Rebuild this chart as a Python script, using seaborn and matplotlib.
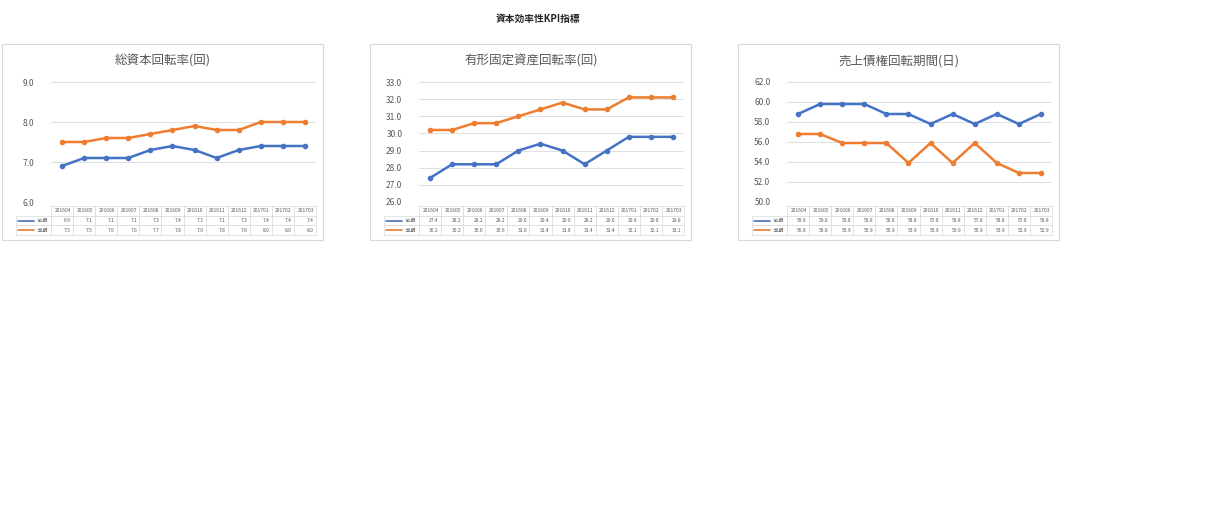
import matplotlib.pyplot as plt
import seaborn as sns
import pandas as pd
from matplotlib.patches import Rectangle
from matplotlib.lines import Line2D

sns.set_style("white")
plt.rcParams['font.family'] = ['Noto Sans CJK JP', 'DejaVu Sans']

months = ["201604", "201605", "201606", "201607", "201608", "201609",
          "201610", "201611", "201612", "201701", "201702", "201703"]
series_names = ["前期", "当期"]

titles = ["総資本回転率(回)", "有形固定資産回転率(回)", "売上債権回転期間(日)"]
prev_vals = [
    [6.9, 7.1, 7.1, 7.1, 7.3, 7.4, 7.3, 7.1, 7.3, 7.4, 7.4, 7.4],
    [27.4, 28.2, 28.2, 28.2, 29.0, 29.4, 29.0, 28.2, 29.0, 29.8, 29.8, 29.8],
    [58.8, 59.8, 59.8, 59.8, 58.8, 58.8, 57.8, 58.8, 57.8, 58.8, 57.8, 58.8],
]
curr_vals = [
    [7.5, 7.5, 7.6, 7.6, 7.7, 7.8, 7.9, 7.8, 7.8, 8.0, 8.0, 8.0],
    [30.2, 30.2, 30.6, 30.6, 31.0, 31.4, 31.8, 31.4, 31.4, 32.1, 32.1, 32.1],
    [56.8, 56.8, 55.9, 55.9, 55.9, 53.9, 55.9, 53.9, 55.9, 53.9, 52.9, 52.9],
]
y_ranges = [(6.0, 9.0, 1.0), (26.0, 33.0, 1.0), (50.0, 62.0, 2.0)]
colors = ["#4472C4", "#ED7D31"]

W, H = 1220, 511
fig = plt.figure(figsize=(W / 100, H / 100), dpi=100)
fig.text(538 / W, 1 - 19 / H, "資本効率性KPI指標", ha="center", va="center",
         fontsize=7, fontweight="bold")

panel_x = [2, 370, 738]
for i in range(3):
    px = panel_x[i]
    fig.patches.append(Rectangle((px / W, 1 - 240 / H), 321 / W, 196 / H,
                                 transform=fig.transFigure, fill=False,
                                 edgecolor="#d9d9d9", lw=0.8))
    fig.text((px + 161) / W, 1 - 61 / H, titles[i], ha="center", va="center",
             fontsize=9, color="#595959")

    ax = fig.add_axes([(px + 49) / W, 1 - 202 / H, 265 / W, 120 / H])
    df = pd.DataFrame({"month": months * 2,
                       "value": prev_vals[i] + curr_vals[i],
                       "series": [series_names[0]] * 12 + [series_names[1]] * 12})
    sns.lineplot(data=df, x="month", y="value", hue="series", palette=colors,
                 marker="o", markersize=4, markeredgewidth=0, linewidth=1.8,
                 ax=ax, legend=False)
    lo, hi, step = y_ranges[i]
    ax.set_ylim(lo, hi)
    ticks = []
    t = lo
    while t <= hi + 1e-9:
        ticks.append(t)
        t += step
    ax.set_yticks(ticks)
    ax.set_yticklabels([f"{v:.1f}" for v in ticks], fontsize=6, color="#595959")
    ax.set_xlim(-0.5, 11.5)
    ax.set_xticks([])
    ax.set_xlabel("")
    ax.set_ylabel("")
    ax.grid(axis="y", color="#d9d9d9", lw=0.6)
    for s in ax.spines.values():
        s.set_visible(False)
    ax.tick_params(axis="y", length=0, pad=12)

    # data table
    tax = fig.add_axes([(px + 14) / W, 1 - 235 / H, 300 / W, 29 / H])
    tax.axis("off")
    cells = [[""] + months,
             ["    " + series_names[0]] + [f"{v:.1f}" for v in prev_vals[i]],
             ["    " + series_names[1]] + [f"{v:.1f}" for v in curr_vals[i]]]
    tab = tax.table(cellText=cells, bbox=[0, 0, 1, 1],
                    colWidths=[35 / 300] + [265 / 300 / 12] * 12)
    tab.auto_set_font_size(False)
    for (r, c), cell in tab.get_celld().items():
        cell.set_edgecolor("#d9d9d9")
        cell.set_linewidth(0.5)
        cell.get_text().set_fontsize(3.5)
        cell.get_text().set_color("#595959")
        if r == 0 and c == 0:
            cell.set_edgecolor("white")
    for r in (1, 2):
        yy = 1 - (r + 0.5) / 3
        tax.add_line(Line2D([0.005, 0.06], [yy, yy], color=colors[r - 1],
                            lw=1.2, transform=tax.transAxes))

fig.savefig("out.png", dpi=100)
